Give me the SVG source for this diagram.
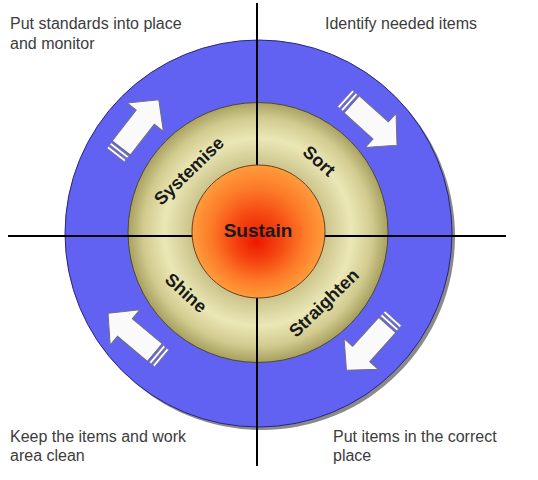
<svg xmlns="http://www.w3.org/2000/svg" width="538" height="480" viewBox="0 0 538 480">
<defs>
<radialGradient id="olive" cx="258" cy="232" r="130" gradientUnits="userSpaceOnUse">
<stop offset="0.5" stop-color="#c9c189"/>
<stop offset="0.72" stop-color="#ebe8b6"/>
<stop offset="0.88" stop-color="#d2cb8f"/>
<stop offset="1" stop-color="#a8a060"/>
</radialGradient>
<radialGradient id="orange" cx="258.5" cy="231.5" r="66.5" fx="256" fy="242" gradientUnits="userSpaceOnUse">
<stop offset="0" stop-color="#ec1800"/>
<stop offset="0.35" stop-color="#f54410"/>
<stop offset="0.7" stop-color="#fc7a28"/>
<stop offset="1" stop-color="#ff9c3c"/>
</radialGradient>
<g id="arrow">
<rect x="0" y="-11" width="2.5" height="22" fill="#ffffff" stroke="#7a7a8a" stroke-width="0.8"/>
<rect x="4.5" y="-11" width="2.5" height="22" fill="#ffffff" stroke="#7a7a8a" stroke-width="0.8"/>
<polygon points="9,-11.5 48,-11.5 48,-23 70,0 48,23 48,11.5 9,11.5" fill="#fafafa" stroke="#6e6e80" stroke-width="1"/>
</g>
</defs>
<style>
.corner{font-family:"Liberation Sans",Arial,sans-serif;font-size:16px;fill:#3c3c3c}
.ring{font-family:"Liberation Sans",Arial,sans-serif;font-size:18px;font-weight:bold;fill:#1a1a1a;text-anchor:middle}
.axis{stroke:#000;stroke-width:2}
</style>
<rect width="538" height="480" fill="#ffffff"/>

<g id="outer-ring">
<circle cx="261.5" cy="236.5" r="193.5" fill="#8a8a8a"/>
<circle cx="258.5" cy="233.5" r="193.5" fill="#6262f2" stroke="#26267a" stroke-width="1"/>
</g>
<g id="middle-ring">
<circle cx="258" cy="232.5" r="130" fill="url(#olive)" stroke="#4d4a2a" stroke-width="1"/>
</g>
<g id="connectors">
<line class="axis" x1="257" y1="3" x2="257" y2="466"/>
<line class="axis" x1="8" y1="236" x2="506" y2="236"/>
</g>
<g id="sustain">
<circle cx="258.5" cy="231.5" r="66.5" fill="url(#orange)" stroke="#6a4020" stroke-width="1"/>
<text class="ring" x="258" y="237" style="font-size:19px">Sustain</text>
</g>
<g id="sort">
<text class="ring" transform="translate(319,161) rotate(42)" y="6">Sort</text>
</g>
<g id="straighten">
<text class="ring" transform="translate(324,303) rotate(-44)" y="6">Straighten</text>
</g>
<g id="shine">
<text class="ring" transform="translate(186,293) rotate(42)" y="6">Shine</text>
</g>
<g id="systemise">
<text class="ring" transform="translate(189,171) rotate(-44)" y="6">Systemise</text>
</g>
<g id="arrows">
<use href="#arrow" transform="translate(115.7,155) rotate(-52)"/>
<use href="#arrow" transform="translate(345,98.3) rotate(42)"/>
<use href="#arrow" transform="translate(393.3,318.3) rotate(132)"/>
<use href="#arrow" transform="translate(161.7,358.3) rotate(-140)"/>
</g>
<g id="label-systemise">
<text class="corner" x="10" y="29">Put standards into place</text>
<text class="corner" x="10" y="49">and monitor</text>
</g>
<g id="label-sort">
<text class="corner" x="325" y="29">Identify needed items</text>
</g>
<g id="label-shine">
<text class="corner" x="10" y="441.5">Keep the items and work</text>
<text class="corner" x="10" y="461">area clean</text>
</g>
<g id="label-straighten">
<text class="corner" x="333" y="441.5">Put items in the correct</text>
<text class="corner" x="333" y="461">place</text>
</g>
</svg>
